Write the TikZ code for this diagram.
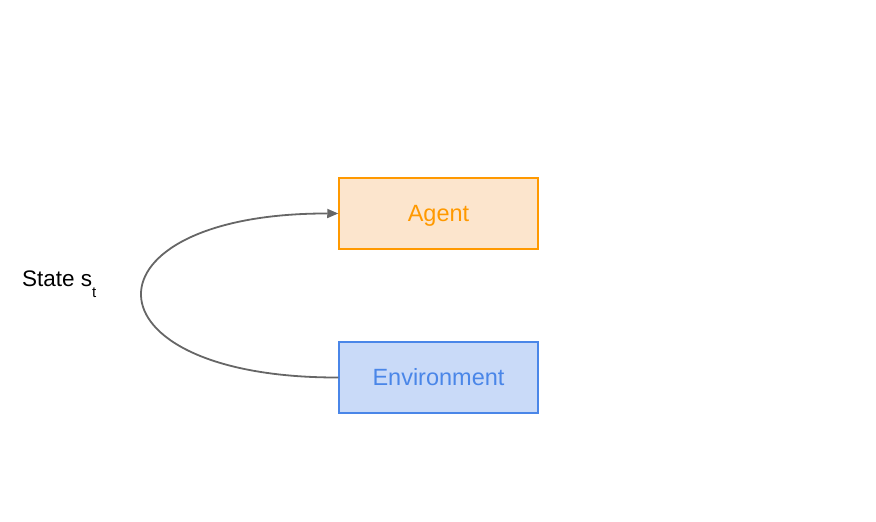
\documentclass[tikz,border=0pt]{standalone}
\usepackage{fontspec}
\setmainfont{Liberation Sans}
\usetikzlibrary{arrows.meta}
\definecolor{agentfill}{HTML}{FCE5CD}
\definecolor{agentline}{HTML}{FF9900}
\definecolor{envfill}{HTML}{C9DAF8}
\definecolor{envline}{HTML}{4A86E8}
\definecolor{arrowgray}{HTML}{666666}
\tikzset{
  box/.style={draw, line width=1.5pt, minimum width=199pt, minimum height=71pt, inner sep=0pt, text height=16.8pt, text depth=0pt, font=\fontsize{23.5}{27}\selectfont},
  agentbox/.style={box, draw=agentline, fill=agentfill, text=agentline},
  envbox/.style={box, draw=envline, fill=envfill, text=envline},
  conn/.style={draw=arrowgray, line width=1.8pt, -{Triangle[length=11pt,width=9pt]}},
  lab/.style={font=\fontsize{22.5}{26}\selectfont, inner sep=0pt, anchor=base west}
}
\begin{document}
\begin{tikzpicture}[x=1pt,y=-1pt]
\useasboundingbox (0,0) rectangle (876,522);
\node[agentbox] (agent) at (438.5,213.5) {Agent};
\node[envbox] (env) at (438.5,377.5) {Environment};
\node[lab] (state) at (22,286) {State s\raisebox{-11pt}{\fontsize{15}{17}\selectfont t}};
\draw[conn] (env.west) .. controls (77,378) and (77,213) .. (agent.west);
\end{tikzpicture}
\end{document}
